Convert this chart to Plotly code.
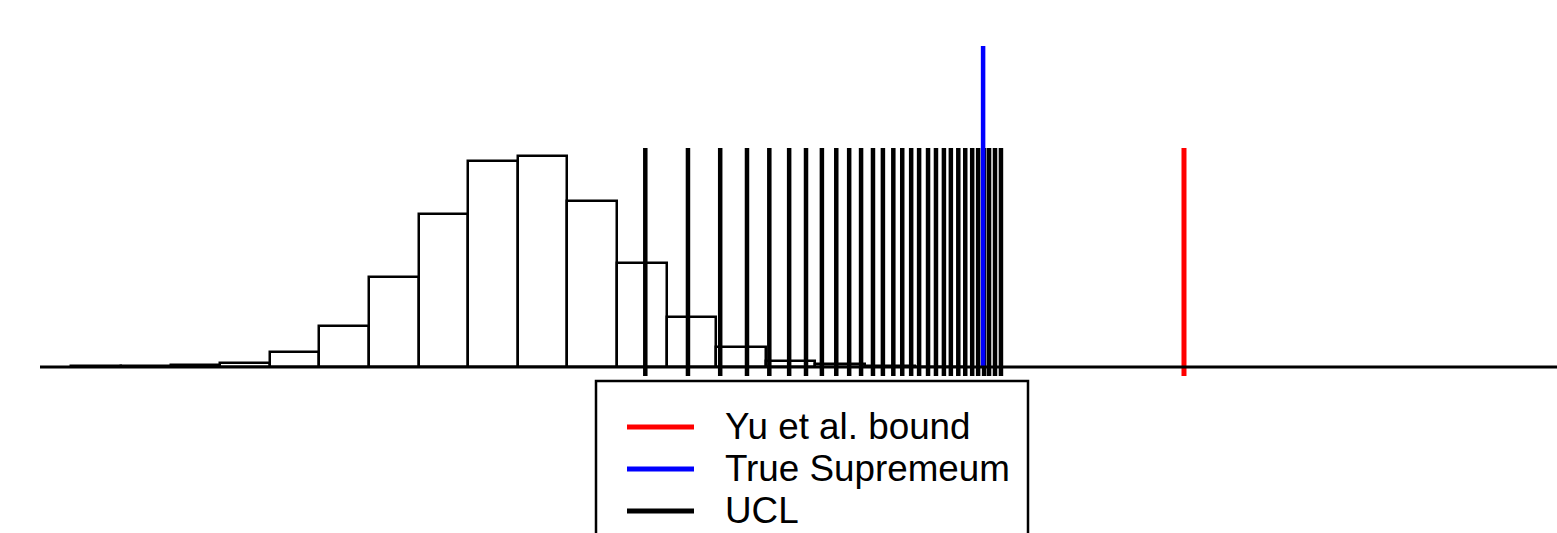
import plotly.graph_objects as go

# ---- data (x in histogram-bin units, bin width 1) ----
bin_edges_start = 0.0
bin_width = 1.0
hist_counts = [10, 10, 25, 40, 150, 410, 900, 1530, 2060, 2110, 1660, 1040, 500, 200, 60, 30, 10, 5]

ucl_values = [11.57, 12.43, 13.08, 13.62, 14.07, 14.47, 14.81, 15.13, 15.42, 15.68,
              15.92, 16.16, 16.36, 16.57, 16.75, 16.93, 17.09, 17.27, 17.43, 17.59,
              17.73, 17.88, 18.02, 18.16, 18.28, 18.40, 18.50, 18.62, 18.74]
true_supremum = 18.38
yu_bound = 22.43

ucl_line_top = 2190
ucl_line_bottom = -90
sup_line_top = 3210

legend_labels = ["Yu et al. bound", "True Supremeum", "UCL"]
legend_colors = ["#ff0000", "#0000ff", "#000000"]

W, H = 1557, 533
x_range = [-0.633, 29.95]
y_range = [-1660, 3670]

fig = go.Figure()

# histogram
centers = [bin_edges_start + bin_width * (i + 0.5) for i in range(len(hist_counts))]
fig.add_trace(go.Bar(x=centers, y=hist_counts, width=bin_width,
                     marker=dict(color="white", line=dict(color="black", width=2.5)),
                     showlegend=False, hoverinfo="skip"))

# baseline
fig.add_shape(type="line", xref="paper", yref="y", x0=0, x1=1, y0=0, y1=0,
              line=dict(color="black", width=3))

# UCL lines
ux, uy = [], []
for v in ucl_values:
    ux += [v, v, None]
    uy += [ucl_line_bottom, ucl_line_top, None]
fig.add_trace(go.Scatter(x=ux, y=uy, mode="lines", line=dict(color="black", width=4.5),
                         showlegend=False, hoverinfo="skip"))

# true supremum
fig.add_trace(go.Scatter(x=[true_supremum, true_supremum], y=[0, sup_line_top], mode="lines",
                         line=dict(color="#0000ff", width=4.5), showlegend=False, hoverinfo="skip"))

# Yu et al. bound
fig.add_trace(go.Scatter(x=[yu_bound, yu_bound], y=[ucl_line_bottom, ucl_line_top], mode="lines",
                         line=dict(color="#ff0000", width=5), showlegend=False, hoverinfo="skip"))

# ---- manual legend (paper coordinates) ----
plot_w = W - 40
def px_x(p):
    return (p - 40) / plot_w
def px_y(p):
    return (H - p) / H

fig.add_shape(type="rect", xref="paper", yref="paper",
              x0=px_x(596), x1=px_x(1028), y0=px_y(545), y1=px_y(381),
              line=dict(color="black", width=2.5), fillcolor="white", layer="above")
rows_y = [427, 469, 511]
for lab, col, ry in zip(legend_labels, legend_colors, rows_y):
    fig.add_shape(type="line", xref="paper", yref="paper",
                  x0=px_x(627), x1=px_x(694), y0=px_y(ry), y1=px_y(ry),
                  line=dict(color=col, width=5), layer="above")
    fig.add_annotation(xref="paper", yref="paper", x=px_x(723), y=px_y(ry),
                       text=lab, showarrow=False, xanchor="left", yanchor="middle",
                       font=dict(family="Liberation Sans, Arial, sans-serif", size=36.8, color="black"))

fig.update_layout(
    width=W, height=H,
    margin=dict(l=40, r=0, t=0, b=0, autoexpand=False),
    paper_bgcolor="white", plot_bgcolor="white",
    xaxis=dict(range=x_range, visible=False, showgrid=False, zeroline=False),
    yaxis=dict(range=y_range, visible=False, showgrid=False, zeroline=False),
    bargap=0, showlegend=False,
)

fig.write_html("out.html", config={"displayModeBar": False},
               post_script="document.body.style.margin='0';")
